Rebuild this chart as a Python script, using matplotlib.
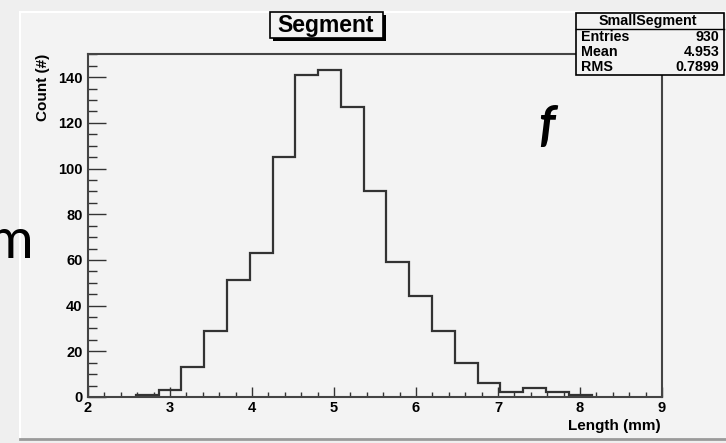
import numpy as np
import matplotlib
matplotlib.use("Agg")
import matplotlib.pyplot as plt
from matplotlib.patches import Rectangle
from matplotlib.lines import Line2D
from matplotlib.ticker import MultipleLocator

# histogram
bin_edges = [2.58, 2.86, 3.14, 3.42, 3.69, 3.97, 4.25, 4.53, 4.81, 5.09, 5.36,
             5.64, 5.92, 6.20, 6.48, 6.76, 7.03, 7.31, 7.59, 7.87, 8.15]
counts = [1, 3, 13, 29, 51, 63, 105, 141, 143, 127, 90,
          59, 44, 29, 15, 6, 2, 4, 2, 1]

stat_names = ["Entries", "Mean", "RMS"]
stat_values = ["930", "4.953", "0.7899"]
x_ticks = [2, 3, 4, 5, 6, 7, 8, 9]
y_ticks = [0, 20, 40, 60, 80, 100, 120, 140]

W, H = 726, 443
def fx(px):
    return px / W
def fy(py):
    return 1 - py / H

plt.rcParams['font.family'] = ['Liberation Sans', 'DejaVu Sans']
fig = plt.figure(figsize=(W / 100, H / 100), dpi=100, facecolor='#efefef')

# canvas of the screenshot
fig.add_artist(Rectangle((fx(20), fy(439)), 1 - fx(20), fy(12) - fy(439),
                         transform=fig.transFigure, facecolor='#f3f3f3',
                         edgecolor='none', zorder=0))
fig.add_artist(Line2D([fx(20), fx(20)], [fy(12), fy(439)], color='white', lw=1.5,
                      transform=fig.transFigure))
fig.add_artist(Line2D([fx(20), 1], [fy(12), fy(12)], color='white', lw=1.5,
                      transform=fig.transFigure))
fig.add_artist(Line2D([fx(20), 1], [fy(439), fy(439)], color='#9a9a9a', lw=2,
                      transform=fig.transFigure))

ax = fig.add_axes([fx(88), fy(397), fx(662) - fx(88), fy(54) - fy(397)])
ax.set_facecolor('#f3f3f3')
ax.stairs(counts, bin_edges, color='#333333', lw=1.6)
ax.set_xlim(2, 9)
ax.set_ylim(0, 1.05 * max(counts))

ax.set_xticks(x_ticks)
ax.set_yticks(y_ticks)
ax.xaxis.set_minor_locator(MultipleLocator(0.2))
ax.yaxis.set_minor_locator(MultipleLocator(5))
ax.tick_params(which='both', direction='in', colors='#333333', labelcolor='black',
               labelsize=10.5, top=False, right=False)
ax.tick_params(axis='x', which='major', length=7.5, width=1.0, pad=3)
ax.tick_params(axis='x', which='minor', length=3.5, width=1.0)
ax.tick_params(axis='y', which='major', length=13, width=1.0, pad=4)
ax.tick_params(axis='y', which='minor', length=6.5, width=1.0)
for lab in ax.get_xticklabels() + ax.get_yticklabels():
    lab.set_fontweight('bold')
for sp in ax.spines.values():
    sp.set_color('#444444')
    sp.set_linewidth(1.5)

fig.text(fx(661), fy(426), "Length (mm)", ha='right', va='center',
         fontsize=11, fontweight='bold')
fig.text(fx(43), fy(54), "Count (#)", rotation=90, ha='center', va='top',
         fontsize=11, fontweight='bold')

# title box with shadow
fig.add_artist(Rectangle((fx(273), fy(41)), fx(386) - fx(273), fy(15) - fy(41),
                         transform=fig.transFigure, facecolor='black',
                         edgecolor='none', zorder=3))
fig.add_artist(Rectangle((fx(270), fy(38)), fx(383) - fx(270), fy(12) - fy(38),
                         transform=fig.transFigure, facecolor='#f3f3f3',
                         edgecolor='black', lw=1.2, zorder=4))
fig.text(fx(326), fy(25.5), "Segment", ha='center', va='center',
         fontsize=16.5, fontweight='bold', zorder=5)

# stats box
fig.add_artist(Rectangle((fx(576), fy(75)), fx(724) - fx(576), fy(13) - fy(75),
                         transform=fig.transFigure, facecolor='#f3f3f3',
                         edgecolor='black', lw=1.2, zorder=4))
fig.add_artist(Line2D([fx(576), fx(724)], [fy(29), fy(29)], color='black', lw=1.0,
                      transform=fig.transFigure, zorder=5))
fig.text(fx(648), fy(21), "SmallSegment", ha='center', va='center',
         fontsize=10.3, fontweight='bold', zorder=5)
for i, (name, val) in enumerate(zip(stat_names, stat_values)):
    yy = 37 + 15 * i
    fig.text(fx(581), fy(yy), name, ha='left', va='center',
             fontsize=10.3, fontweight='bold', zorder=5)
    fig.text(fx(719), fy(yy), val, ha='right', va='center',
             fontsize=10.3, fontweight='bold', zorder=5)

# slide text around the screenshot
fig.text(fx(33), fy(258), "m", ha='right', va='baseline', fontsize=40,
         family=['Lato', 'DejaVu Sans'], zorder=6)
fig.text(fx(538), fy(141), "f", ha='left', va='baseline', fontsize=36,
         family=['Lato', 'DejaVu Sans'], style='italic', fontweight='bold', zorder=6)

fig.savefig("out.png", dpi=100, facecolor=fig.get_facecolor())
